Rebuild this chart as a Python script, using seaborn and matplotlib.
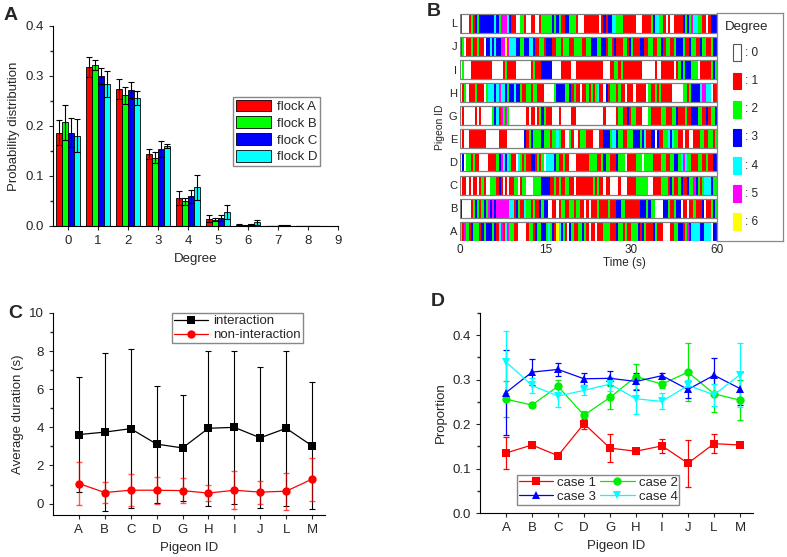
import numpy as np
import pandas as pd
import seaborn as sns
import matplotlib
matplotlib.use('Agg')
import matplotlib.pyplot as plt
from matplotlib.patches import Rectangle
from matplotlib.ticker import MultipleLocator

# ---------------- data ----------------
# Panel A: degree distribution per flock
degrees = list(range(9))
flocks = ['flock A', 'flock B', 'flock C', 'flock D']
prob_flock_a = [0.187, 0.318, 0.274, 0.145, 0.056, 0.015, 0.003, 0.0005, 0.0003]
prob_flock_b = [0.208, 0.323, 0.262, 0.137, 0.050, 0.013, 0.002, 0.0005, 0.0003]
prob_flock_c = [0.187, 0.300, 0.272, 0.155, 0.060, 0.017, 0.004, 0.001, 0.0003]
prob_flock_d = [0.181, 0.284, 0.256, 0.161, 0.078, 0.028, 0.008, 0.002, 0.0003]
err_flock_a = [0.025, 0.020, 0.020, 0.010, 0.014, 0.007, 0.001, 0.0005, 0.0]
err_flock_b = [0.035, 0.010, 0.017, 0.011, 0.007, 0.003, 0.001, 0.0, 0.0]
err_flock_c = [0.029, 0.016, 0.016, 0.016, 0.013, 0.006, 0.001, 0.001, 0.0]
err_flock_d = [0.033, 0.026, 0.014, 0.004, 0.025, 0.014, 0.005, 0.001, 0.0]

# Panel B: degree over time, one char per 0.5 s bin (bottom row A ... top row L)
raster_ids = ['A', 'B', 'C', 'D', 'E', 'G', 'H', 'I', 'J', 'L']
bin_s = 0.5
raster_seq = [
    "4152132221" "3233323145" "1452211000" "0122132233" "2423164321" "0321122321"
    "0110111222" "1113221211" "2223132111" "3211100011" "2233125344" "4433444033",
    "3000012321" "2325353555" "5554413211" "4221211323" "3001101221" "1221221101"
    "0111211112" "1113322111" "1111333232" "2000033211" "2330110112" "1113011232",
    "0110101101" "2100222131" "0101122012" "2000222233" "3311212112" "2110111111"
    "1121211011" "0000100011" "1122222200" "1111222132" "1123113225" "3212444322",
    "0302212110" "0001111235" "4342110421" "2113312120" "4444321121" "1000111111"
    "2222112322" "1113222011" "1122202222" "1111221122" "3324542211" "1221121133",
    "0100111111" "1100000011" "1100000000" "3123222232" "2212242110" "0210012221"
    "1100011333" "2443221122" "2333234113" "3031122434" "2211011001" "1122112212",
    "0100000101" "0000023415" "2520000000" "0101101232" "1110001000" "0011000000"
    "0000000100" "0001221131" "2211100021" "1111221112" "2311121133" "3221131223",
    "0120111211" "1024443454" "4323343321" "1221221110" "0000233332" "2312110112"
    "1212411031" "2221211011" "1011111021" "1212111110" "0000221233" "3345544011",
    "0200011111" "1111100000" "1211110000" "0001211133" "3330000111" "1100111111"
    "1111111000" "1122121111" "1111100000" "0100111111" "0123233322" "2011111232",
    "1201121121" "1033434335" "5654443322" "3344311221" "3331122122" "2112222112"
    "2333223312" "2131112213" "2111331122" "1122312211" "2333211322" "1132211233",
    "1000121323" "3333334325" "5543110022" "1001100122" "2223232113" "3222100011"
    "1111101313" "3442221111" "1100011112" "3442210100" "1111323254" "4221101333",
]
time_ticks = [0, 20, 40, 60]
time_tick_labels = ['0', '15', '30', '60']

# Panel C: average durations
pigeon_ids = ['A', 'B', 'C', 'D', 'G', 'H', 'I', 'J', 'L', 'M']
dur_inter = [3.62, 3.75, 3.93, 3.12, 2.92, 3.95, 4.00, 3.45, 3.95, 3.03]
dur_inter_err = [3.00, 4.16, 4.17, 3.07, 2.80, 4.07, 4.00, 3.70, 4.08, 3.33]
dur_non = [1.05, 0.58, 0.70, 0.70, 0.68, 0.55, 0.70, 0.60, 0.65, 1.28]
dur_non_err = [1.12, 0.54, 0.83, 0.70, 0.65, 0.43, 1.00, 0.60, 0.97, 1.12]

# Panel D: proportion of cases
case1 = [0.135, 0.153, 0.129, 0.201, 0.146, 0.139, 0.151, 0.112, 0.156, 0.153]
case1_err = [0.035, 0.007, 0.004, 0.011, 0.032, 0.006, 0.016, 0.053, 0.021, 0.003]
case2 = [0.256, 0.243, 0.285, 0.220, 0.260, 0.307, 0.290, 0.317, 0.268, 0.254]
case2_err = [0.040, 0.005, 0.014, 0.010, 0.026, 0.028, 0.008, 0.065, 0.040, 0.045]
case3 = [0.271, 0.317, 0.323, 0.302, 0.303, 0.296, 0.309, 0.278, 0.310, 0.280]
case3_err = [0.095, 0.030, 0.015, 0.013, 0.016, 0.020, 0.006, 0.020, 0.038, 0.038]
case4 = [0.340, 0.287, 0.263, 0.276, 0.290, 0.257, 0.251, 0.287, 0.266, 0.311]
case4_err = [0.070, 0.016, 0.025, 0.011, 0.015, 0.035, 0.018, 0.013, 0.025, 0.072]

# ---------------- style ----------------
sns.set_theme(style='ticks')
plt.rcParams['font.family'] = ['Liberation Sans', 'DejaVu Sans']
plt.rcParams['axes.linewidth'] = 0.8
plt.rcParams['xtick.major.width'] = 0.8
plt.rcParams['ytick.major.width'] = 0.8
plt.rcParams['xtick.major.size'] = 3
plt.rcParams['ytick.major.size'] = 3
plt.rcParams['ytick.minor.size'] = 2
plt.rcParams['axes.edgecolor'] = 'black'

FS = 9.5
fig = plt.figure(figsize=(7.87, 5.57), dpi=100)
W, H = 787, 557


def add_ax(left, top, right, bottom):
    return fig.add_axes([left / W, 1 - bottom / H, (right - left) / W, (bottom - top) / H])


# ---------------- panel A ----------------
ax_a = add_ax(53, 26, 338, 226)
flock_colors = ['#FF0000', '#00FF00', '#0000FF', '#00FFFF']
df_a = pd.DataFrame({
    'degree': degrees * 4,
    'flock': np.repeat(flocks, len(degrees)),
    'prob': prob_flock_a + prob_flock_b + prob_flock_c + prob_flock_d,
    'err': err_flock_a + err_flock_b + err_flock_c + err_flock_d,
})
group_w = 0.83
sns.barplot(data=df_a, x='degree', y='prob', hue='flock', palette=flock_colors,
            saturation=1, errorbar=None, width=group_w, edgecolor='black',
            linewidth=0.6, ax=ax_a)
bar_w = group_w / len(flocks)
for i, fl in enumerate(flocks):
    sub = df_a[df_a['flock'] == fl]
    xpos = sub['degree'].to_numpy() + (i - 1.5) * bar_w
    ax_a.errorbar(xpos, sub['prob'], yerr=sub['err'], fmt='none', ecolor='black',
                  elinewidth=0.8, capsize=2.5, capthick=0.8)
ax_a.set_xlim(-0.5, 9)
ax_a.set_ylim(0, 0.4)
ax_a.set_xticks(range(10))
ax_a.set_xticklabels([str(d) for d in range(10)])
ax_a.yaxis.set_major_locator(MultipleLocator(0.1))
ax_a.yaxis.set_minor_locator(MultipleLocator(0.05))
ax_a.tick_params(labelsize=FS)
ax_a.set_xlabel('Degree', fontsize=FS)
ax_a.set_ylabel('Probability distribution', fontsize=FS)
sns.despine(ax=ax_a)
ax_a.legend(loc='upper left', bbox_to_anchor=(0.632, 0.645), fontsize=FS,
            frameon=True, fancybox=False, edgecolor='#888888', framealpha=1,
            handlelength=2.7, handleheight=1.0, labelspacing=0.25,
            borderpad=0.2, borderaxespad=0, handletextpad=0.4)

# ---------------- panel B ----------------
ax_b = add_ax(460, 13, 717, 241)
deg_colors = ['#FFFFFF', '#FF0000', '#00FF00', '#0000FF', '#00FFFF', '#FF00FF', '#FFFF00']
strip_h = 0.82
for row, seq in enumerate(raster_seq):
    vals = np.array([int(c) for c in seq])
    change = np.flatnonzero(np.diff(vals)) + 1
    starts = np.r_[0, change]
    ends = np.r_[change, len(vals)]
    ax_b.barh(row, (ends - starts) * bin_s, left=starts * bin_s, height=strip_h,
              color=[deg_colors[v] for v in vals[starts]], linewidth=0)
    ax_b.barh(row, len(vals) * bin_s, left=0, height=strip_h, fill=False,
              edgecolor='#808080', linewidth=0.9)
ax_b.set_xlim(0, 60)
ax_b.set_ylim(-0.42, len(raster_ids) - 1 + 0.45)
ax_b.set_yticks(range(len(raster_ids)))
ax_b.set_yticklabels(raster_ids)
ax_b.set_xticks(time_ticks)
ax_b.set_xticklabels(time_tick_labels)
ax_b.tick_params(axis='y', length=0, labelsize=8, pad=2)
ax_b.tick_params(axis='x', length=0, labelsize=8.5, pad=2)
for sp in ax_b.spines.values():
    sp.set_visible(False)
ax_b.set_xlabel('Time (s)', fontsize=8.5)
ax_b.xaxis.set_label_coords(0.64, -0.072)
ax_b.set_ylabel('Pigeon ID', fontsize=7.5)
ax_b.yaxis.set_label_coords(-0.06, 0.5)

# legend for B
ax_bl = add_ax(717, 13, 783, 241)
ax_bl.set_xlim(0, 1)
ax_bl.set_ylim(0, 1)
ax_bl.set_xticks([])
ax_bl.set_yticks([])
for sp in ax_bl.spines.values():
    sp.set_edgecolor('#888888')
    sp.set_linewidth(0.9)
ax_bl.text(0.45, 0.94, 'Degree', ha='center', va='center', fontsize=9.5)
for k, col in enumerate(deg_colors):
    yc = 0.825 - k * 0.1235
    ax_bl.add_patch(Rectangle((0.24, yc - 0.037), 0.12, 0.074, facecolor=col,
                              edgecolor='#555555' if k == 0 else col, linewidth=0.8))
    ax_bl.text(0.42, yc, ': %d' % k, ha='left', va='center', fontsize=8.5)

# ---------------- panel C ----------------
ax_c = add_ax(53, 313, 325, 515)
pos = np.arange(len(pigeon_ids))
df_c = pd.DataFrame({
    'pos': np.r_[pos, pos],
    'dur': dur_inter + dur_non,
    'kind': ['interaction'] * len(pos) + ['non-interaction'] * len(pos),
})
ax_c.errorbar(pos, dur_inter, yerr=dur_inter_err, fmt='none', ecolor='black',
              elinewidth=0.8, capsize=2.5, capthick=0.8)
ax_c.errorbar(pos, dur_non, yerr=dur_non_err, fmt='none', ecolor='#FF0000', alpha=0.65,
              elinewidth=1.0, capsize=2.5, capthick=1.0)
sns.lineplot(data=df_c, x='pos', y='dur', hue='kind', style='kind',
             palette={'interaction': 'black', 'non-interaction': '#FF0000'},
             markers={'interaction': 's', 'non-interaction': 'o'}, dashes=False,
             markersize=6, markeredgewidth=0, linewidth=0.9, ax=ax_c)
ax_c.set_xlim(-1, 9.5)
ax_c.set_ylim(-0.6, 10)
ax_c.set_xticks(pos)
ax_c.set_xticklabels(pigeon_ids)
ax_c.yaxis.set_major_locator(MultipleLocator(2))
ax_c.yaxis.set_minor_locator(MultipleLocator(1))
ax_c.tick_params(labelsize=FS)
ax_c.set_xlabel('Pigeon ID', fontsize=FS)
ax_c.set_ylabel('Average duration (s)', fontsize=FS)
sns.despine(ax=ax_c)
h, l = ax_c.get_legend_handles_labels()
ax_c.legend(h, l, loc='upper left', bbox_to_anchor=(0.4375, 1.0), fontsize=FS,
            frameon=True, fancybox=False, edgecolor='#888888', framealpha=1,
            handlelength=2.6, labelspacing=0.15, borderpad=0.15, borderaxespad=0,
            handletextpad=0.4)

# ---------------- panel D ----------------
ax_d = add_ax(480, 313, 753, 513)
case_names = ['case 1', 'case 2', 'case 3', 'case 4']
case_colors = {'case 1': '#FF0000', 'case 2': '#00EE00', 'case 3': '#0000FF', 'case 4': '#00FFFF'}
case_vals = [case1, case2, case3, case4]
case_errs = [case1_err, case2_err, case3_err, case4_err]
df_d = pd.DataFrame({
    'pos': np.tile(pos, 4),
    'prop': np.concatenate(case_vals),
    'case': np.repeat(case_names, len(pos)),
})
for name, vals, errs in zip(case_names, case_vals, case_errs):
    ax_d.errorbar(pos, vals, yerr=errs, fmt='none', ecolor=case_colors[name],
                  elinewidth=0.9, capsize=2.5, capthick=0.9)
sns.lineplot(data=df_d, x='pos', y='prop', hue='case', style='case', palette=case_colors,
             markers={'case 1': 's', 'case 2': 'o', 'case 3': '^', 'case 4': 'v'},
             dashes=False, markersize=6, markeredgewidth=0, linewidth=0.9, ax=ax_d)
ax_d.set_xlim(-1, 9.5)
ax_d.set_ylim(0, 0.45)
ax_d.set_xticks(pos)
ax_d.set_xticklabels(pigeon_ids)
ax_d.yaxis.set_major_locator(MultipleLocator(0.1))
ax_d.yaxis.set_minor_locator(MultipleLocator(0.05))
ax_d.tick_params(labelsize=FS)
ax_d.set_xlabel('Pigeon ID', fontsize=FS)
ax_d.set_ylabel('Proportion', fontsize=FS)
sns.despine(ax=ax_d)
h, l = ax_d.get_legend_handles_labels()
order = [0, 2, 1, 3]
ax_d.legend([h[i] for i in order], [l[i] for i in order], ncol=2, loc='lower left',
            bbox_to_anchor=(0.136, 0.04), fontsize=FS, frameon=True, fancybox=False,
            edgecolor='#888888', framealpha=1, handlelength=2.6, labelspacing=0.15,
            borderpad=0.15, borderaxespad=0, handletextpad=0.3, columnspacing=0.3)

# panel letters
for letter, x, y in [('A', 4, 16), ('B', 427, 12), ('C', 8, 314), ('D', 431, 301)]:
    fig.text(x / W, 1 - y / H, letter, fontsize=14, fontweight='bold', va='center', ha='left')

fig.savefig('out.png', dpi=100, facecolor='white')
